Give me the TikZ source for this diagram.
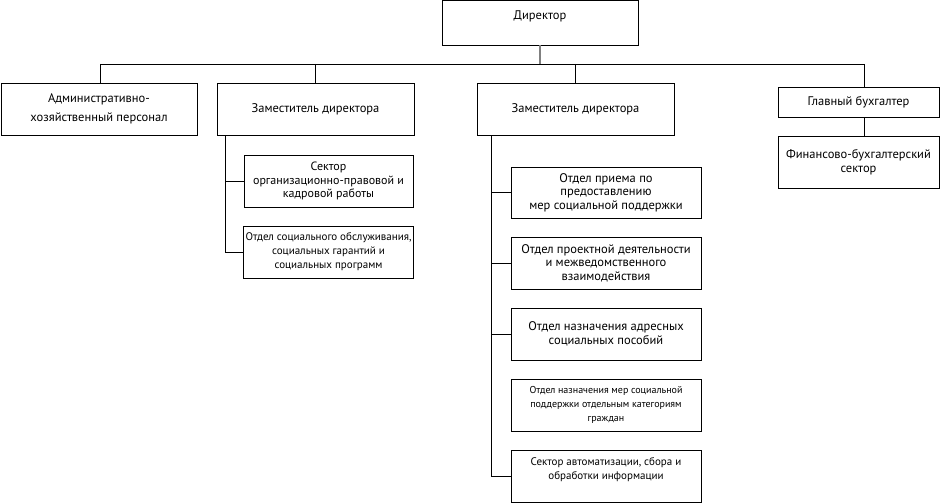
\documentclass[tikz,border=0pt]{standalone}
\usepackage{fontspec}
\setmainfont{PT Sans}
\usepackage{tikz}

\begin{document}
\begin{tikzpicture}[x=1pt,y=-1pt,
		unit/.style={draw,rectangle,line width=0.8pt,align=center,inner sep=2pt,font=\fontsize{12.5}{13.5}\selectfont},
		subunit/.style={unit,font=\fontsize{11}{14}\selectfont},
		link/.style={line width=0.8pt}]
		\useasboundingbox (0,0) rectangle (940,503);
		%top level
		\node [unit,minimum width=196,minimum height=44.5] (dir) at (540,22.75) {Директор\\[2pt]};
		\node [unit,minimum width=196,minimum height=52] (adm) at (99,109) {Административно-\\[5pt]хозяйственный персонал};
		\node [unit,minimum width=197,minimum height=52] (dep1) at (315.5,109) {Заместитель директора};
		\node [unit,minimum width=197,minimum height=52] (dep2) at (575.5,109) {Заместитель директора};
		\node [unit,minimum width=161,minimum height=30] (acc) at (858.5,102) {Главный бухгалтер};
		\node [unit,minimum width=161,minimum height=52] (fin) at (858.5,162) {Финансово-бухгалтерский\\сектор};
		%under the first deputy
		\node [unit,font=\fontsize{12}{13.5}\selectfont,minimum width=169,minimum height=52] (org) at (328.5,181) {Сектор\\организационно-правовой и\\кадровой работы};
		\node [subunit,minimum width=169,minimum height=52] (soc) at (328.5,252) {Отдел социального обслуживания,\\социальных гарантий и\\социальных программ};
		%under the second deputy
		\node [unit,minimum width=190,minimum height=51] (rec) at (606,192.5) {Отдел приема по\\предоставлению\\мер социальной поддержки};
		\node [unit,minimum width=190,minimum height=52] (prj) at (606,263) {Отдел проектной деятельности\\и межведомственного\\взаимодействия};
		\node [unit,minimum width=190,minimum height=52] (adr) at (606,334) {Отдел назначения адресных\\социальных пособий};
		\node [subunit,font=\fontsize{10}{14}\selectfont,minimum width=190,minimum height=52] (cat) at (606,405) {Отдел назначения мер социальной\\поддержки отдельным категориям\\граждан};
		\node [subunit,minimum width=190,minimum height=52] (aut) at (606,476) {Сектор автоматизации, сбора и\\обработки информации\\\mbox{}};
		%bus under the director
		\coordinate (busL) at (100,64);
		\coordinate (busR) at (864,64);
		\draw [link] (busL) -- (busR);
		\draw [gray,line width=2pt] (dir.south) -- (dir.south |- busL);
		\draw [link] (busL) -- (busL |- adm.north);
		\draw [link] (dep1.north |- busL) -- (dep1.north);
		\draw [link] (dep2.north |- busL) -- (dep2.north);
		\draw [link] (busR) -- (busR |- acc.north);
		\draw [link] (busR |- acc.south) -- (busR |- fin.north);
		%spines
		\coordinate (sp1) at (225,135);
		\coordinate (sp2) at (491,135);
		\draw [link] (sp1) |- (org.west);
		\draw [link] (sp1) |- (soc.west);
		\draw [link] (sp2) |- (rec.west);
		\draw [link] (sp2) |- (prj.west);
		\draw [link] (sp2) |- (adr.west);
		\draw [link] (sp2) |- (aut.west);
\end{tikzpicture}
\end{document}
